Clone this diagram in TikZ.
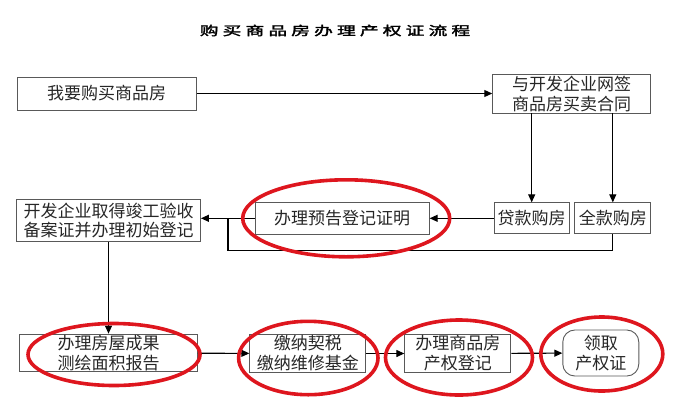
\documentclass[tikz,border=0pt]{standalone}
\usepackage{fontspec}
\usepackage{graphicx}
\newfontfamily\cjk{Noto Sans CJK SC}
\usetikzlibrary{shapes, arrows, positioning, fit, calc, arrows.meta}
\definecolor{ringred}{RGB}{222,22,30}

\begin{document}
\begin{tikzpicture}[x=1pt, y=-1pt, ->, >={Triangle[length=8pt,width=7pt]}, line width=1.1pt,
    box/.style={draw=black!65, line width=0.9pt, rectangle, align=center, inner sep=1pt,
        font=\cjk\fontsize{17}{20}\selectfont, text=black!85},
    ring/.style={-, draw=ringred, line width=3.6pt}]
    \useasboundingbox (0,0) rectangle (680,400);

    \node[font=\cjk\fontsize{12.5}{14}\selectfont] (title) at (335,30.5)
        {\scalebox{1.5}[1]{\addfontfeature{LetterSpace=22,FakeBold=2}购买商品房办理产权证流程}};

    % top row
    \node[box, minimum width=179pt, minimum height=33pt] (buy) at (106.7,93.5) {我要购买商品房};
    \node[box, minimum width=158pt, minimum height=39pt] (sign) at (571.7,93.5) {与开发企业网签\\商品房买卖合同};

    % middle row
    \node[box, minimum width=75pt, minimum height=31pt] (loan) at (531.7,218.3) {贷款购房};
    \node[box, minimum width=76pt, minimum height=31pt] (full) at (612.8,218.3) {全款购房};
    \node[box, minimum width=174pt, minimum height=32pt] (notice) at (342.2,218.3) {办理预告登记证明};
    \node[box, minimum width=184pt, minimum height=42pt, font=\cjk\fontsize{17}{19.5}\selectfont] (dev) at (108.5,220.5)
        {开发企业取得竣工验收\\备案证并办理初始登记};
    \coordinate (jn) at (228,218.3);

    % bottom row
    \node[box, minimum width=178pt, minimum height=36pt] (survey) at (108.5,353) {办理房屋成果\\测绘面积报告};
    \node[box, minimum width=116pt, minimum height=35pt] (tax) at (307.8,353.5) {缴纳契税\\缴纳维修基金};
    \node[box, minimum width=106pt, minimum height=35pt] (reg) at (457.8,353.5) {办理商品房\\产权登记};
    \node[box, minimum width=76pt, minimum height=46pt, rounded corners=12pt] (cert) at (600.8,353) {领取\\产权证};

    \path (buy) edge (sign)
          (sign.south -| loan) edge (loan)
          (sign.south -| full) edge (full)
          (loan) edge (notice)
          (notice.west) edge (notice.west -| dev.east)
          (dev) edge (survey)
          (survey) edge (tax)
          (tax) edge (reg)
          (reg) edge (cert);
    \draw[-] (full.south) -- ++(0,16.5) -| (jn);

    % red marks
    \draw[ring] ([shift={(4,0)}]notice.center) ellipse [x radius=103.5pt, y radius=38.5pt];
    \draw[ring] ([shift={(5.5,1.5)}]survey.center) ellipse [x radius=86pt, y radius=31pt];
    \draw[ring] ([shift={(0.5,4.5)}]tax.center) ellipse [x radius=69.7pt, y radius=36.7pt];
    \draw[ring] ([shift={(1.2,4)}]reg.center) ellipse [x radius=73.5pt, y radius=37.5pt];
    \draw[ring] ([shift={(1,1)}]cert.center) ellipse [x radius=61pt, y radius=37pt];
\end{tikzpicture}
\end{document}
